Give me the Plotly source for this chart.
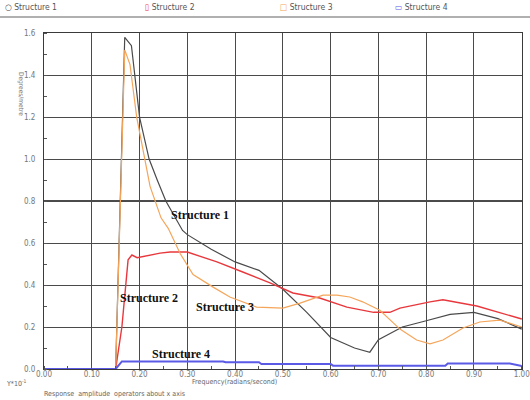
import plotly.graph_objects as go

# ---- data ----
s1_x = [0.0, 0.15, 0.169, 0.183, 0.20, 0.22, 0.237, 0.255, 0.29, 0.30, 0.35, 0.40, 0.45, 0.50, 0.55, 0.60, 0.65, 0.682, 0.70, 0.75, 0.80, 0.85, 0.90, 0.95, 1.00]
s1_y = [0.0, 0.0, 1.58, 1.54, 1.20, 1.00, 0.90, 0.80, 0.66, 0.64, 0.57, 0.51, 0.47, 0.38, 0.27, 0.15, 0.10, 0.08, 0.14, 0.20, 0.23, 0.26, 0.27, 0.24, 0.19]

s2_x = [0.0, 0.15, 0.163, 0.176, 0.184, 0.195, 0.243, 0.264, 0.30, 0.362, 0.416, 0.473, 0.521, 0.577, 0.634, 0.69, 0.724, 0.745, 0.808, 0.835, 0.906, 0.954, 1.00]
s2_y = [0.0, 0.0, 0.20, 0.52, 0.543, 0.53, 0.552, 0.557, 0.557, 0.51, 0.462, 0.41, 0.362, 0.338, 0.295, 0.27, 0.27, 0.29, 0.32, 0.33, 0.30, 0.27, 0.238]

s3_x = [0.0, 0.15, 0.169, 0.18, 0.194, 0.222, 0.245, 0.26, 0.285, 0.312, 0.354, 0.389, 0.445, 0.50, 0.536, 0.584, 0.613, 0.64, 0.667, 0.703, 0.745, 0.78, 0.808, 0.835, 0.877, 0.912, 0.954, 1.00]
s3_y = [0.0, 0.0, 1.52, 1.45, 1.20, 0.87, 0.72, 0.67, 0.55, 0.45, 0.39, 0.343, 0.295, 0.29, 0.314, 0.352, 0.352, 0.343, 0.32, 0.28, 0.19, 0.138, 0.12, 0.138, 0.195, 0.224, 0.233, 0.20]

s4_x = [0.0, 0.15, 0.163, 0.375, 0.38, 0.45, 0.455, 0.60, 0.605, 0.84, 0.845, 0.975, 1.00]
s4_y = [0.0, 0.0, 0.036, 0.036, 0.032, 0.032, 0.024, 0.024, 0.016, 0.016, 0.026, 0.026, 0.014]

series_names = ["Structure 1", "Structure 2", "Structure 3", "Structure 4"]
x_ticks = [0.0, 0.1, 0.2, 0.3, 0.4, 0.5, 0.6, 0.7, 0.8, 0.9, 1.0]
x_tick_labels = ["0.00", "0.10", "0.20", "0.30", "0.40", "0.50", "0.60", "0.70", "0.80", "0.90", "1.00"]
y_ticks = [0.0, 0.2, 0.4, 0.6, 0.8, 1.0, 1.2, 1.4, 1.6]
y_tick_labels = ["0.0", "0.2", "0.4", "0.6", "0.8", "1.0", "1.2", "1.4", "1.6"]
emphasized_y_gridlines = [0.8]

# label anchor positions (data coords) for in-plot series labels
label_x = [0.326, 0.22, 0.379, 0.287]
label_y = [0.733, 0.338, 0.295, 0.071]

colors = ["#4a4a4a", "#e8383d", "#f5a55a", "#5a5ae6"]
widths = [1.2, 1.4, 1.2, 2.0]

fig = go.Figure()
for g in emphasized_y_gridlines:
    fig.add_shape(type="line", xref="paper", x0=0, x1=1, yref="y", y0=g, y1=g,
                  line=dict(color="#111", width=1.6), layer="below")

for xs, ys, c, w, n in [(s1_x, s1_y, colors[0], widths[0], series_names[0]),
                        (s2_x, s2_y, colors[1], widths[1], series_names[1]),
                        (s3_x, s3_y, colors[2], widths[2], series_names[2]),
                        (s4_x, s4_y, colors[3], widths[3], series_names[3])]:
    fig.add_trace(go.Scatter(x=xs, y=ys, mode="lines", name=n,
                             line=dict(color=c, width=w), showlegend=False))

# in-plot labels
for t, lx, ly in zip(series_names, label_x, label_y):
    fig.add_annotation(x=lx, y=ly, text="<b>" + t + "</b>", showarrow=False,
                       font=dict(family="Liberation Serif", size=12, color="#111"))

# top legend (custom)
legend_syms = ["○", "▯", "□", "▭"]
legend_px = [3, 143, 278, 393]
for sym, name, c, px in zip(legend_syms, series_names, colors, legend_px):
    fig.add_annotation(xref="paper", yref="paper", x=(px - 44) / 478, y=1 + (33 - 7) / 336,
                       xanchor="left", yanchor="middle", showarrow=False,
                       text='<span style="color:%s">%s</span> <span style="color:#555">%s</span>' % (c, sym, name),
                       font=dict(family="DejaVu Sans Condensed", size=8.5))
fig.add_shape(type="line", xref="paper", yref="paper",
              x0=-44 / 478, x1=(530 - 44) / 478, y0=1 + (33 - 17) / 336, y1=1 + (33 - 17) / 336,
              line=dict(color="#b0b0b0", width=2))

# axis texts
fig.add_annotation(xref="paper", yref="paper", x=(15 - 44) / 478, y=1 - (70 - 33) / 336,
                   text="Degrees/metre", textangle=90, showarrow=False,
                   font=dict(family="DejaVu Sans Condensed", size=6.5, color="#777"))
fig.add_annotation(xref="paper", yref="paper", x=(4 - 44) / 478, y=-(383 - 369) / 336,
                   xanchor="left", yanchor="middle", text="Y*10<sup>-1</sup>", showarrow=False,
                   font=dict(family="DejaVu Sans Condensed", size=7, color="#666"))
fig.add_annotation(xref="paper", yref="paper", x=(42 - 44) / 478, y=-(394 - 369) / 336,
                   xanchor="left", yanchor="middle", text="Response  amplitude  operators about x axis",
                   showarrow=False, font=dict(family="DejaVu Sans Condensed", size=7, color="#666"))
fig.add_annotation(xref="paper", yref="paper", x=(190 - 44) / 478, y=-(382 - 369) / 336,
                   xanchor="left", yanchor="middle", text="Frequency(radians/second)",
                   showarrow=False, font=dict(family="DejaVu Sans Condensed", size=7, color="#666"))

axis_common = dict(showgrid=True, gridcolor="#4a4a4a", gridwidth=1,
                   showline=True, linecolor="#3a3a3a", linewidth=1, mirror=True,
                   zeroline=False, ticks="", automargin=False,
                   tickfont=dict(family="Liberation Sans Narrow, DejaVu Sans Condensed", size=8, color="#777"))

fig.update_xaxes(range=[0, 1.0005], tickvals=x_ticks, ticktext=x_tick_labels,
                 ticklabelstandoff=-3, ticklabeloverflow="allow",
                 minor=dict(dtick=0.05, tick0=0, ticks="inside", ticklen=3, tickcolor="#555", showgrid=False),
                 **axis_common)
fig.update_yaxes(range=[0, 1.6005], tickvals=y_ticks, ticktext=y_tick_labels, ticklabelstandoff=6,
                 minor=dict(dtick=0.1, tick0=0, ticks="inside", ticklen=3, tickcolor="#555", showgrid=False),
                 **axis_common)

fig.update_layout(width=530, height=400, margin=dict(l=44, r=8, t=33, b=31, autoexpand=False),
                  paper_bgcolor="white", plot_bgcolor="white", showlegend=False)

fig.write_html("out.html", config={"displayModeBar": False},
               post_script="document.body.style.margin='0';")
